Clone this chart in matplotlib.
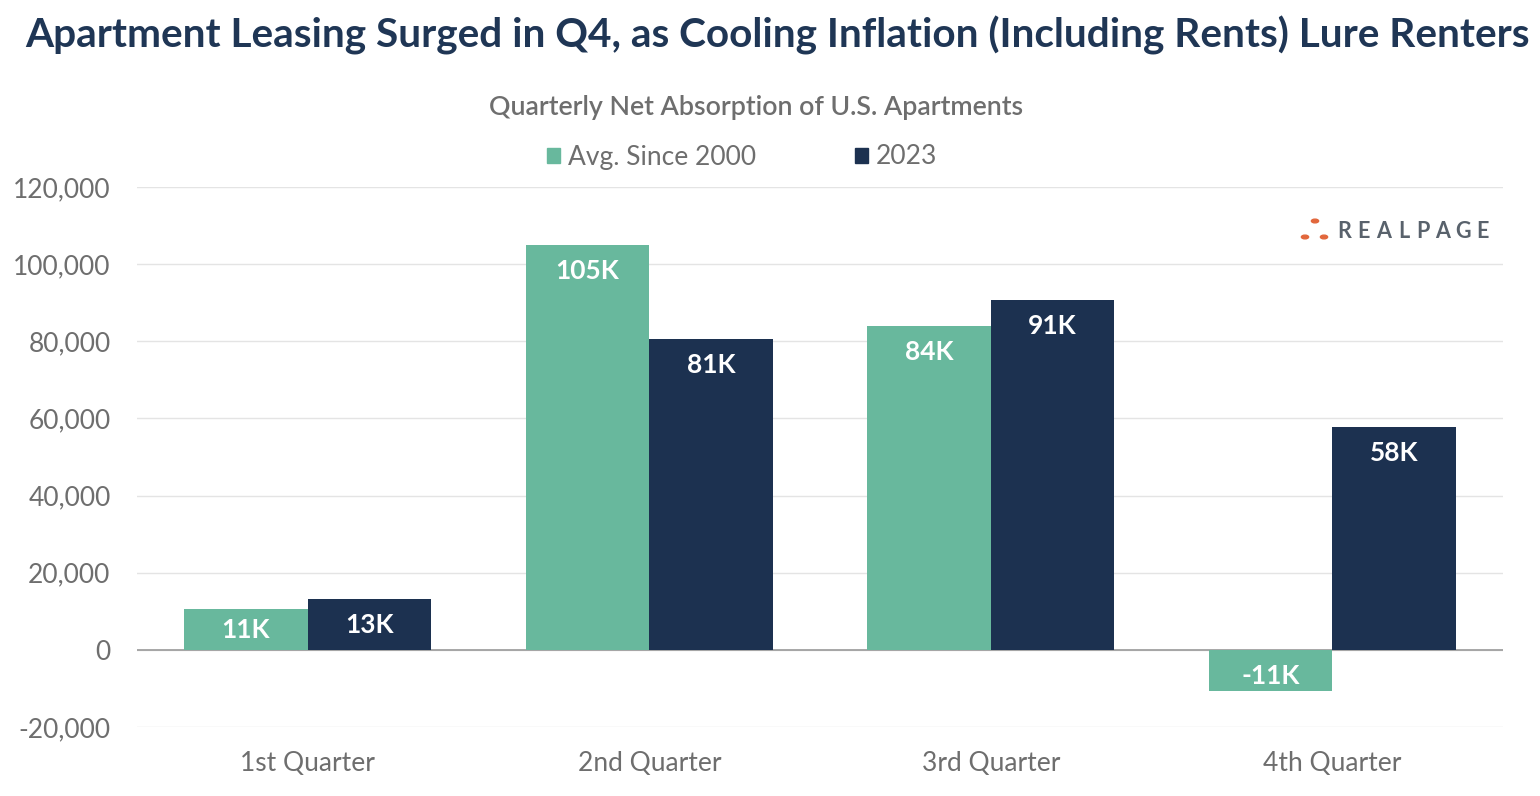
import matplotlib
matplotlib.use("Agg")
import matplotlib.pyplot as plt
from matplotlib.patches import Patch
import numpy as np

quarters = ["1st Quarter", "2nd Quarter", "3rd Quarter", "4th Quarter"]
avg_since_2000 = [10600, 105000, 84000, -10700]
y2023 = [13200, 80500, 90800, 57800]
avg_labels = ["11K", "105K", "84K", "-11K"]
y2023_labels = ["13K", "81K", "91K", "58K"]
yticks = [-20000, 0, 20000, 40000, 60000, 80000, 100000, 120000]

GREEN = "#68b89d"
NAVY = "#1c3150"
GRAY = "#6e6e6e"
TITLE = "#1f3655"

plt.rcParams["font.family"] = ["Lato", "DejaVu Sans"]

fig = plt.figure(figsize=(15.4, 7.96), dpi=100)
ax = fig.add_axes([137/1540, 1-727/796, (1503-137)/1540, 540/796])

x = np.arange(len(quarters))
w = 0.362
b1 = ax.bar(x - w/2, avg_since_2000, w, color=GREEN, zorder=3)
b2 = ax.bar(x + w/2, y2023, w, color=NAVY, zorder=3)

def label(bars, vals, texts):
    for rect, v, t in zip(bars, vals, texts):
        cx = rect.get_x() + rect.get_width()/2
        if abs(v) < 20000:
            ax.annotate(t, (cx, v/2), xytext=(0, -1*0.72 if v > 0 else -6*0.72),
                        textcoords="offset points", ha="center", va="center", color="white",
                        fontsize=19, fontweight="bold", zorder=4)
        else:
            ax.annotate(t, (cx, v), xytext=(0, -26*0.72), textcoords="offset points",
                        ha="center", va="center", color="white",
                        fontsize=19, fontweight="bold", zorder=4)

label(b1, avg_since_2000, avg_labels)
label(b2, y2023, y2023_labels)

ax.set_xlim(-0.5, 3.5)
ax.set_ylim(-20000, 120000)
ax.set_yticks(yticks)
ax.set_yticklabels([f"{t:,}" for t in yticks])
ax.set_xticks(x)
ax.set_xticklabels(quarters)
ax.tick_params(axis="both", length=0, labelsize=19, labelcolor=GRAY)
ax.tick_params(axis="y", pad=19)
ax.tick_params(axis="x", pad=17)
for s in ax.spines.values():
    s.set_visible(False)
ax.grid(axis="y", color="#e4e4e4", linewidth=1, zorder=0)
ax.axhline(0, color="#9a9a9a", linewidth=1.2, zorder=2)
ax.set_axisbelow(True)

fig.text(25/1540, 1-35/796, "Apartment Leasing Surged in Q4, as Cooling Inflation (Including Rents) Lure Renters",
         ha="left", va="center", fontsize=29.2, fontweight="bold", color=TITLE)
fig.text(756/1540, 1-107/796, "Quarterly Net Absorption of U.S. Apartments",
         ha="center", va="center", fontsize=19.3, fontweight="semibold", color=GRAY)

handles = [Patch(color=GREEN, label="Avg. Since 2000"), Patch(color=NAVY, label="2023")]
fig.legend(handles=handles, loc="center", bbox_to_anchor=(742/1540, 1-157/796), ncol=2,
           frameon=False, fontsize=19, labelcolor=GRAY, handlelength=0.5, handleheight=0.5,
           handletextpad=0.3, columnspacing=3.75)

# RealPage logo
dots = [(1315, 221), (1305, 237), (1324, 237)]
for dx, dy in dots:
    fig.patches.append(plt.Circle((dx/1540, 1-dy/796), 3.6/1540, transform=fig.transFigure,
                                  color="#e2673c", zorder=5))
letters = "REALPAGE"
lx = 1344
for ch in letters:
    fig.text(lx/1540, 1-231/796, ch, ha="center", va="center", fontsize=15.5,
             fontweight="bold", color="#59626c")
    lx += 19.8

fig.savefig("out.png", dpi=100)
